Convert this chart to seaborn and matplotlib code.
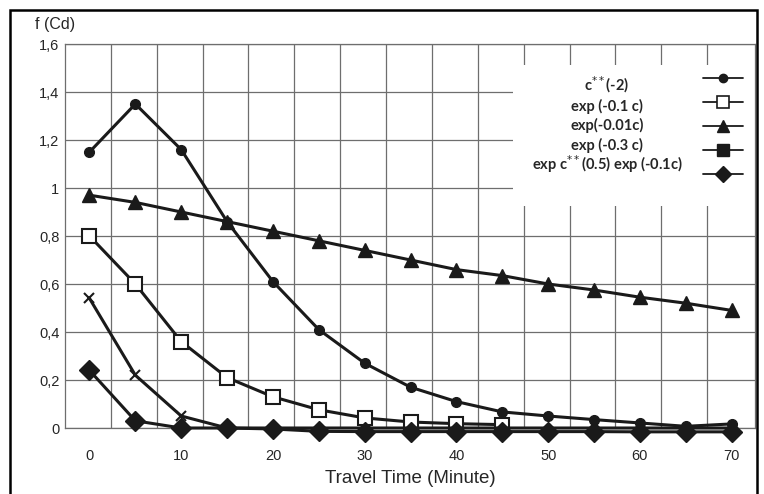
import matplotlib
matplotlib.use("Agg")
import matplotlib.pyplot as plt
import seaborn as sns
from matplotlib.lines import Line2D
from matplotlib.patches import Rectangle

# travel time categories (minutes)
minutes = [0, 5, 10, 15, 20, 25, 30, 35, 40, 45, 50, 55, 60, 65, 70]

# f(c) values
power_m2 = [1.15, 1.35, 1.16, 0.86, 0.61, 0.41, 0.27, 0.17, 0.11, 0.067, 0.05, 0.035, 0.021, 0.007, 0.017]
exp_01 = [0.80, 0.60, 0.36, 0.21, 0.13, 0.076, 0.042, 0.025, 0.018, 0.014]
exp_001 = [0.97, 0.94, 0.90, 0.86, 0.82, 0.78, 0.74, 0.70, 0.66, 0.635, 0.60, 0.575, 0.545, 0.52, 0.49]
exp_03 = [0.54, 0.22, 0.05, 0.0, 0.0, 0.0, 0.0, 0.0, 0.0, 0.0, 0.0, 0.0, 0.0, 0.0, 0.0]
sqrt_exp = [0.24, 0.03, 0.0, 0.0, -0.004, -0.014, -0.015, -0.015, -0.015, -0.015, -0.015, -0.015, -0.016, -0.016, -0.016]

legend_labels = [r"c$^{**}$(-2)", "exp (-0.1 c)", "exp(-0.01c)", "exp (-0.3 c)",
                 r"exp c$^{**}$(0.5) exp (-0.1c)"]
x_ticks = [0, 10, 20, 30, 40, 50, 60, 70]
y_ticks = [0, 0.2, 0.4, 0.6, 0.8, 1.0, 1.2, 1.4, 1.6]
y_ticklabels = ["0", "0,2", "0,4", "0,6", "0,8", "1", "1,2", "1,4", "1,6"]

sns.set_style("white")
plt.rcParams["font.family"] = ["Liberation Sans", "DejaVu Sans"]

ink = "#1a1a1a"
grid_c = "#6e6e6e"

fig = plt.figure(figsize=(7.64, 4.94), dpi=100)
ax = fig.add_axes([65 / 764, 1 - 428 / 494, 690 / 764, 384 / 494])

common = dict(ax=ax, color=ink, linewidth=2.2, clip_on=False)
sns.lineplot(x=minutes, y=exp_001, marker="^", markersize=10,
             markerfacecolor=ink, markeredgecolor=ink, markeredgewidth=1, zorder=3, **common)
sns.lineplot(x=minutes, y=power_m2, marker="o", markersize=7,
             markerfacecolor=ink, markeredgecolor=ink, markeredgewidth=1, zorder=3, **common)
sns.lineplot(x=minutes[:len(exp_01)], y=exp_01, marker="s", markersize=10,
             markerfacecolor="white", markeredgecolor=ink, markeredgewidth=1.5, zorder=3, **common)
sns.lineplot(x=minutes, y=exp_03, marker="x", markersize=7, markevery=[0, 1, 2],
             markeredgecolor=ink, markeredgewidth=1.5, zorder=3, **common)
sns.lineplot(x=minutes, y=sqrt_exp, marker="D", markersize=10,
             markerfacecolor=ink, markeredgecolor=ink, markeredgewidth=1, zorder=4, **common)

ax.set_xlim(-2.67, 72.55)
ax.set_ylim(0, 1.6)
ax.set_xticks(x_ticks)
ax.set_xticklabels([str(t) for t in x_ticks], fontsize=10.5)
ax.set_xticks([-2.67 + 5 * k for k in range(1, 15)], minor=True)
ax.set_yticks(y_ticks)
ax.set_yticklabels(y_ticklabels, fontsize=10.5)
ax.tick_params(axis="x", which="both", length=0, pad=15)
ax.tick_params(axis="y", length=0, pad=4)
ax.set_axisbelow(True)
ax.grid(axis="y", which="major", color=grid_c, linewidth=0.9)
ax.grid(axis="x", which="minor", color=grid_c, linewidth=0.9)
ax.grid(axis="x", which="major", visible=False)
for sp in ax.spines.values():
    sp.set_visible(True)
    sp.set_color(grid_c)
    sp.set_linewidth(0.9)

ax.set_xlabel("Travel Time (Minute)", fontsize=13.5, labelpad=5)
ax.set_ylabel("")
fig.text(35 / 764, 1 - 24 / 494, "f (Cd)", fontsize=11.5, va="center", ha="left")

# white legend area
ax.add_patch(Rectangle((0.649, 0.578), 0.351, 0.367, transform=ax.transAxes,
                       facecolor="white", edgecolor="none", zorder=1))

handles = [
    Line2D([], [], color=ink, lw=1.3, marker="o", ms=6, mfc=ink, mec=ink),
    Line2D([], [], color=ink, lw=1.3, marker="s", ms=8, mfc="white", mec=ink, mew=1.2),
    Line2D([], [], color=ink, lw=1.3, marker="^", ms=8, mfc=ink, mec=ink),
    Line2D([], [], color=ink, lw=1.3, marker="s", ms=8, mfc=ink, mec=ink),
    Line2D([], [], color=ink, lw=1.3, marker="D", ms=8, mfc=ink, mec=ink),
]
leg = ax.legend(handles, [""] * 5, loc="upper center",
                bbox_to_anchor=((723 - 65) / 690, (428 - 72) / 384),
                frameon=False, handlelength=2.9, handletextpad=0, labelspacing=0.72,
                borderpad=0, borderaxespad=0, fontsize=10)
leg.set_zorder(5)

label_y = [85, 106, 125, 145, 164]
for lab, yy in zip(legend_labels, label_y):
    ax.text((607 - 65) / 690, (428 - yy) / 384, lab, transform=ax.transAxes,
            ha="center", va="center", fontsize=10.5, fontweight="bold",
            family=["Lato", "DejaVu Sans"], zorder=6)

# outer frame
fig.add_artist(Rectangle((10 / 764, -0.02), 747 / 764, 1 - 10 / 494 + 0.02,
                         transform=fig.transFigure, fill=False, edgecolor="black", lw=1.8))

fig.savefig("out.png", dpi=100)
